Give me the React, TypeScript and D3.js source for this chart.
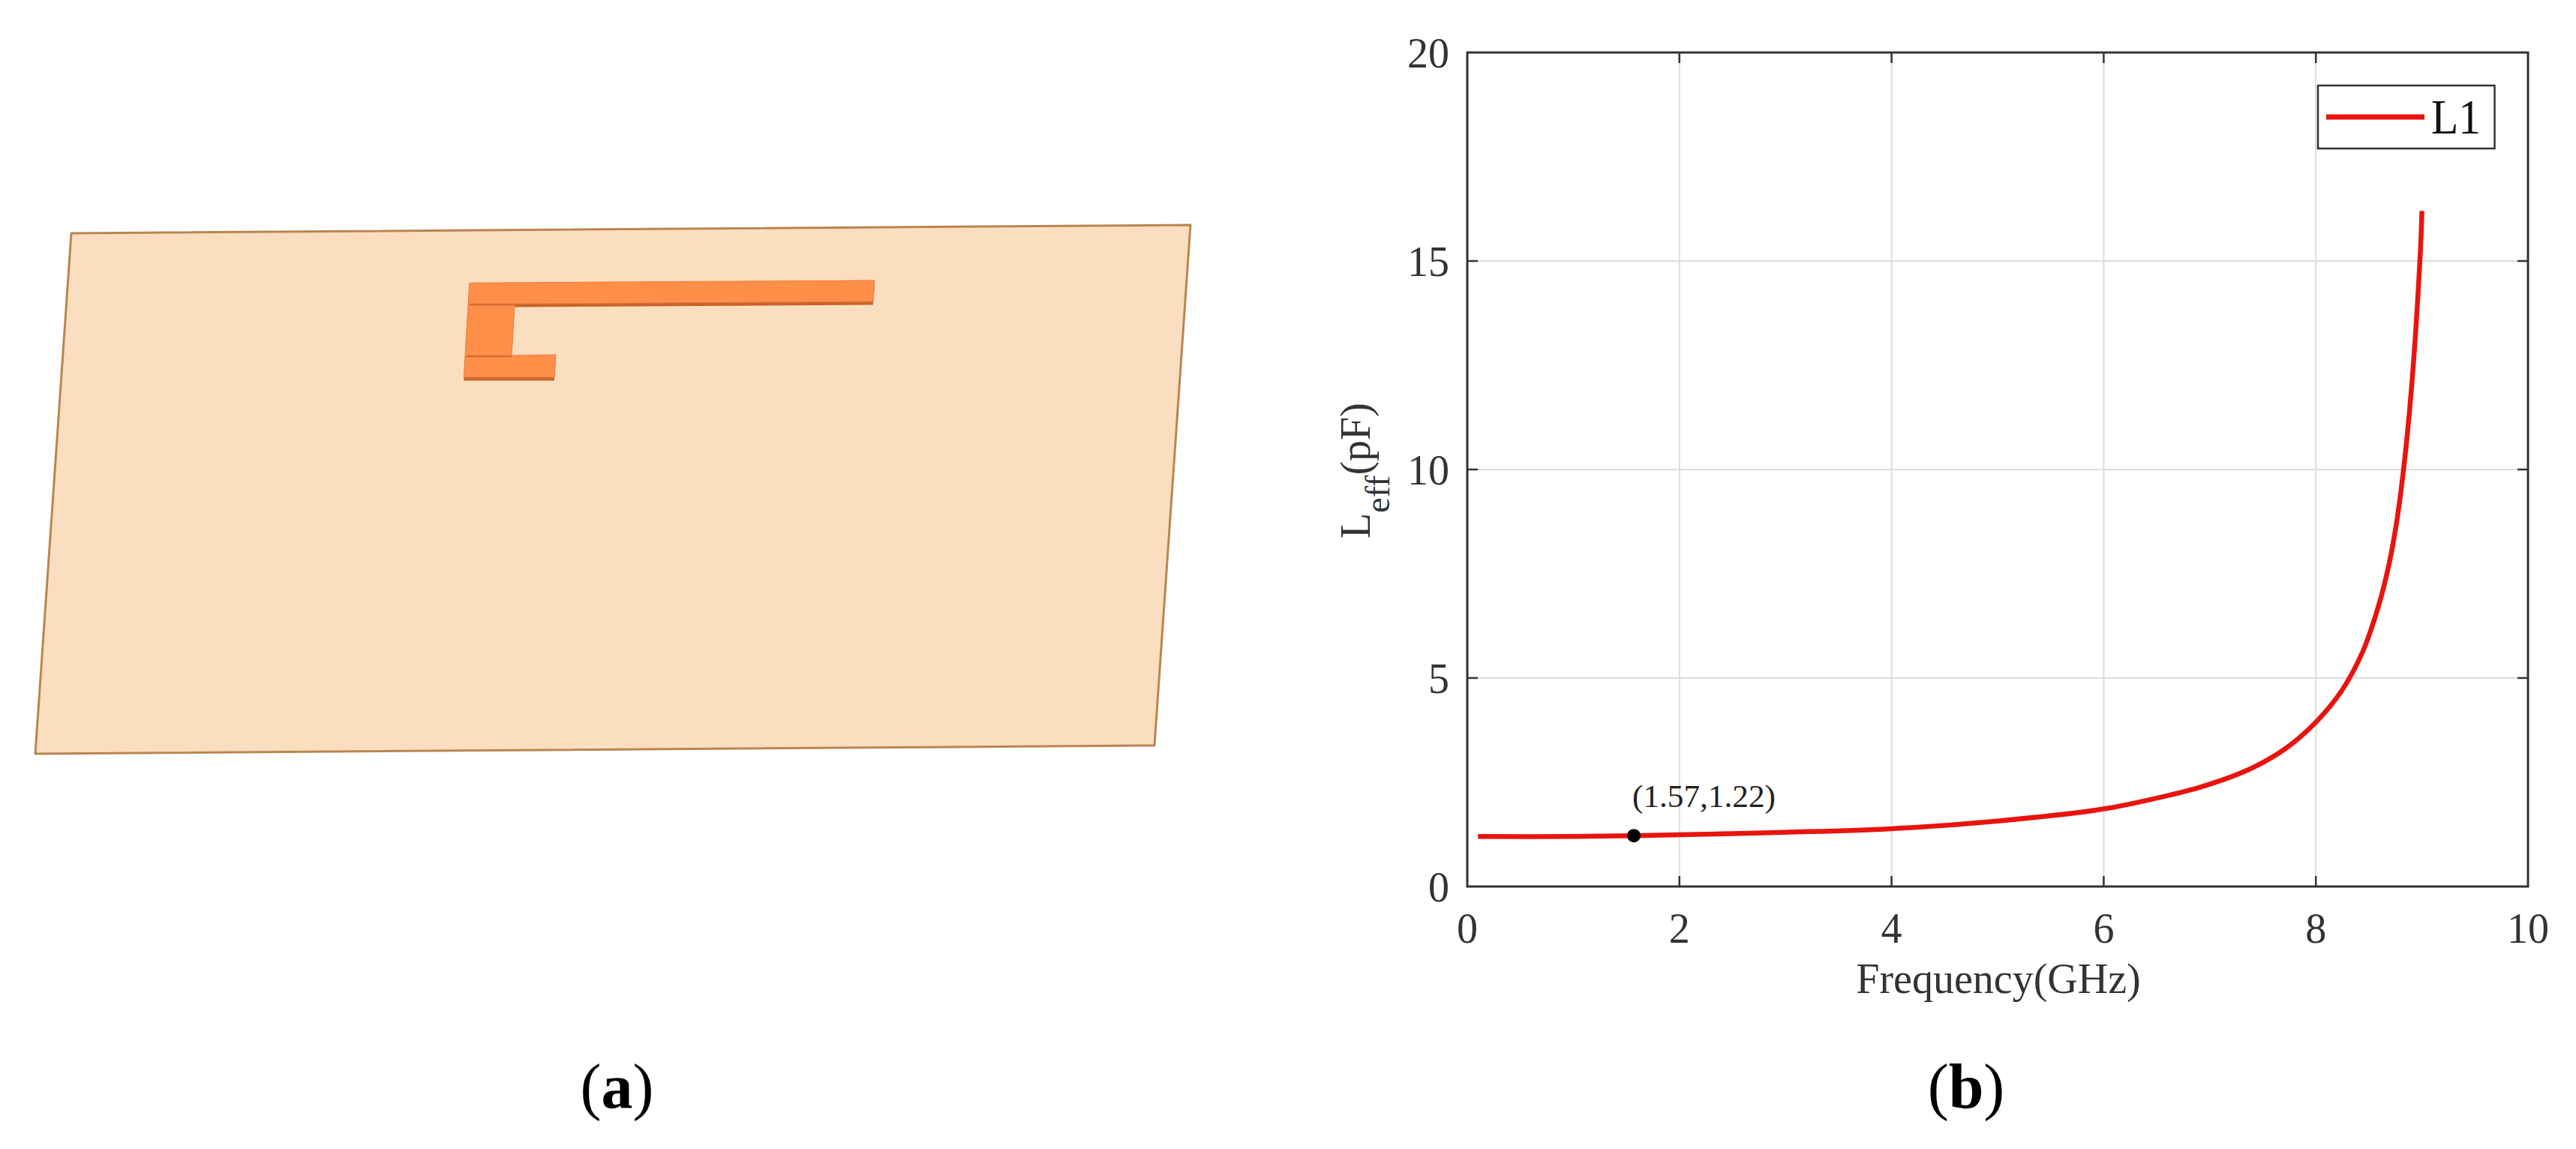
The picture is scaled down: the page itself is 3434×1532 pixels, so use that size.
import React from "react";
import * as d3 from "d3";

// ---- chart data (b)
const freqGHz = [0.1, 1, 1.57, 2, 3, 4, 5, 6, 6.5, 6.92, 7.38, 7.71, 8, 8.24, 8.44, 8.57, 8.67, 8.75, 8.82, 8.9, 8.985, 9];
const leff = [1.2, 1.2, 1.22, 1.24, 1.3, 1.385, 1.57, 1.86, 2.12, 2.39, 2.82, 3.3, 3.94, 4.68, 5.62, 6.55, 7.5, 8.55, 9.85, 11.9, 15.2, 16.2];
const xTickValues = [0, 2, 4, 6, 8, 10];
const yTickValues = [0, 5, 10, 15, 20];
const markerPoint = [1.57, 1.22];
const markerLabel = "(1.57,1.22)";
const seriesName = "L1";
const xAxisTitle = "Frequency(GHz)";

// ---- antenna model (a), in fractions of the board's two edges
const boardU = [0, 1, 1, 0];
const boardV = [0, 0, 1, 1];
const patchU = [0.359, 0.721, 0.721, 0.4007, 0.4012, 0.4407, 0.4407, 0.3598];
const patchV = [0.101, 0.102, 0.1425, 0.1418, 0.2412, 0.2403, 0.2836, 0.2824];

const FONT = "'Liberation Serif', 'Times New Roman', serif";
const RED = "#e8140e";
const INK = "#333333";

const x = d3.scaleLinear().domain([0, 10]).range([1956, 3370]);
const y = d3.scaleLinear().domain([0, 20]).range([1182, 70]);

const projX = (u: number, v: number) => 95 + 1492 * u - 48 * v;
const projY = (u: number, v: number) => 311 - 11 * u + 694 * v;

const curve = d3
  .line<number>()
  .x((_, i) => x(freqGHz[i]))
  .y((d) => y(d))
  .curve(d3.curveCatmullRom.alpha(0.5));

const poly = d3.line<number[]>().x((d) => d[0]).y((d) => d[1]);
const boardPts = boardU.map((u, i) => [projX(u, boardV[i]), projY(u, boardV[i])]);
const patchPts = patchU.map((u, i) => [projX(u, patchV[i]), projY(u, patchV[i])]);
const patchDepth = 4.5;
const sidePts = patchPts.map((p) => [p[0], p[1] + patchDepth]);

export default function App() {
  const [xMin, xMax] = x.range();
  const [yBot, yTop] = y.range();
  return (
    <svg
      width={3434}
      height={1532}
      viewBox="0 0 3434 1532"
      style={{ position: "absolute", left: 0, top: 0, display: "block", background: "#fff" }}
      fontFamily={FONT}
    >
      {/* panel (a) */}
      <path d={poly(boardPts) + "Z"} fill="#fbdebf" stroke="#b98650" strokeWidth={3} strokeLinejoin="round" />
      <path d={poly(sidePts) + "Z"} fill="#c9642b" />
      <path d={poly(patchPts) + "Z"} fill="#ff8e49" stroke="#e8803f" strokeWidth={1} />
      <line
        x1={patchPts[0][0] - 0.5}
        y1={patchPts[3][1] + 1}
        x2={patchPts[3][0]}
        y2={patchPts[3][1] + 1}
        stroke="#d46c30"
        strokeWidth={2.5}
      />
      <line
        x1={patchPts[4][0] - 61}
        y1={patchPts[4][1] + 1}
        x2={patchPts[4][0]}
        y2={patchPts[4][1] + 1}
        stroke="#d46c30"
        strokeWidth={2.5}
      />
      <text x={822.5} y={1477} fontSize={84} textAnchor="middle" fill="#000">
        (<tspan fontWeight="bold">a</tspan>)
      </text>

      {/* grid */}
      {xTickValues.slice(1, -1).map((t) => (
        <line key={t} x1={x(t)} x2={x(t)} y1={yBot} y2={yTop} stroke="#dcdcdc" strokeWidth={2} />
      ))}
      {yTickValues.slice(1, -1).map((t) => (
        <line key={t} x1={xMin} x2={xMax} y1={y(t)} y2={y(t)} stroke="#dcdcdc" strokeWidth={2} />
      ))}

      {/* ticks on all four sides */}
      {xTickValues.slice(1, -1).map((t) => (
        <g key={t} stroke={INK} strokeWidth={2.5}>
          <line x1={x(t)} x2={x(t)} y1={yBot} y2={yBot - 14} />
          <line x1={x(t)} x2={x(t)} y1={yTop} y2={yTop + 14} />
        </g>
      ))}
      {yTickValues.slice(1, -1).map((t) => (
        <g key={t} stroke={INK} strokeWidth={2.5}>
          <line x1={xMin} x2={xMin + 14} y1={y(t)} y2={y(t)} />
          <line x1={xMax} x2={xMax - 14} y1={y(t)} y2={y(t)} />
        </g>
      ))}

      {/* frame */}
      <rect x={xMin} y={yTop} width={xMax - xMin} height={yBot - yTop} fill="none" stroke={INK} strokeWidth={3} />

      {/* curve */}
      <path d={curve(leff) ?? ""} fill="none" stroke={RED} strokeWidth={6.5} />
      <circle cx={x(markerPoint[0])} cy={y(markerPoint[1])} r={9} fill="#000" />
      <text x={x(markerPoint[0]) - 2} y={1076} fontSize={43} fill="#222" textLength={191} lengthAdjust="spacingAndGlyphs">
        {markerLabel}
      </text>

      {/* tick labels */}
      {xTickValues.map((t) => (
        <text key={t} x={x(t)} y={1257} fontSize={56} textAnchor="middle" fill={INK}>
          {t}
        </text>
      ))}
      {yTickValues.map((t) => (
        <text key={t} x={1932} y={y(t) + 20} fontSize={56} textAnchor="end" fill={INK}>
          {t}
        </text>
      ))}

      {/* axis titles */}
      <text x={2664} y={1324} fontSize={56} textAnchor="middle" fill={INK}>
        {xAxisTitle}
      </text>
      <text transform="translate(1826,718) rotate(-90)" fontSize={56} fill={INK}>
        L
        <tspan fontSize={46} dy={26}>
          eff
        </tspan>
        <tspan dy={-26}>(pF)</tspan>
      </text>

      {/* legend */}
      <rect x={3090} y={114} width={235.5} height={84} fill="#fff" stroke={INK} strokeWidth={2.5} />
      <line x1={3101} x2={3232} y1={156} y2={156} stroke={RED} strokeWidth={7} />
      <text x={3241} y={178} fontSize={65} fill="#111" textLength={66} lengthAdjust="spacingAndGlyphs">
        {seriesName}
      </text>

      <text x={2621} y={1477} fontSize={84} textAnchor="middle" fill="#000">
        (<tspan fontWeight="bold">b</tspan>)
      </text>
    </svg>
  );
}
